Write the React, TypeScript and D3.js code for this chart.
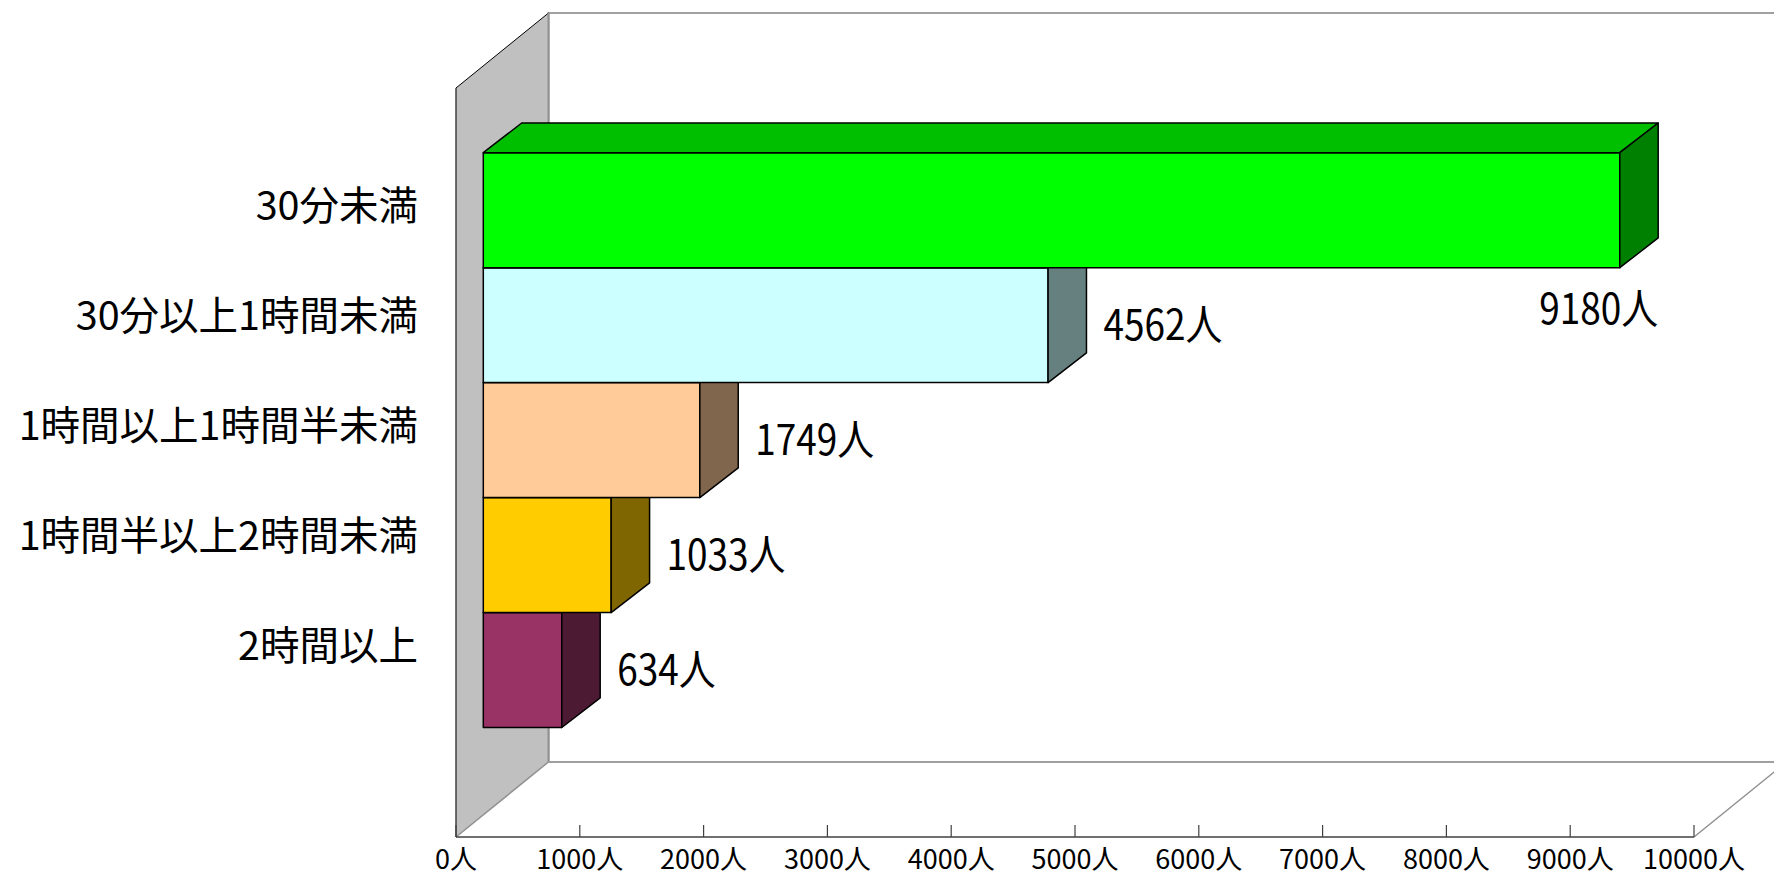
import React from "react";
import * as d3 from "d3";

// 通勤・通学の所要時間別の人数
const categories = [
  "30分未満",
  "30分以上1時間未満",
  "1時間以上1時間半未満",
  "1時間半以上2時間未満",
  "2時間以上",
];
const values = [9180, 4562, 1749, 1033, 634];
const barColors = ["#00FF00", "#CCFFFF", "#FFCC99", "#FFCC00", "#993366"];
const tickValues = [0, 1000, 2000, 3000, 4000, 5000, 6000, 7000, 8000, 9000, 10000];
const unit = "人";

const W = 1774;
const H = 876;

// 3D box geometry
const AXIS_X0 = 456;
const AXIS_X1 = 1694;
const FRONT_TOP = 88;
const FRONT_BOTTOM = 837;
const WALL_DEPTH: [number, number] = [92.5, -75];
const BAR_OFFSET_X = 27.3;
const BAR_DEPTH: [number, number] = [38.4, -29.7];

const FONT = "'Noto Sans CJK JP', 'Noto Sans', sans-serif";

function shade(c: string, k: number) {
  const r = d3.rgb(c);
  return d3.rgb(Math.round(r.r * k), Math.round(r.g * k), Math.round(r.b * k)).formatHex();
}

export default function App() {
  const x = d3.scaleLinear().domain([0, 10000]).range([AXIS_X0, AXIS_X1]);
  const xBar = d3
    .scaleLinear()
    .domain([0, 10000])
    .range([AXIS_X0 + BAR_OFFSET_X, AXIS_X1 + BAR_OFFSET_X]);
  const yBar = d3.scaleBand().domain(categories).range([152.7, 727.5]).padding(0);
  const yLabel = d3.scaleBand().domain(categories).range([150, 700]).padding(0);

  const [dx, dy] = WALL_DEPTH;
  const [bdx, bdy] = BAR_DEPTH;
  const line = d3.line();

  const bars = categories.map((c, i) => {
    const x0 = xBar(0);
    const x1 = xBar(values[i]);
    const y0 = yBar(c)!;
    const y1 = y0 + yBar.bandwidth();
    const front: [number, number][] = [
      [x0, y0], [x1, y0], [x1, y1], [x0, y1],
    ];
    const top: [number, number][] = [
      [x0, y0], [x0 + bdx, y0 + bdy], [x1 + bdx, y0 + bdy], [x1, y0],
    ];
    const side: [number, number][] = [
      [x1, y0], [x1 + bdx, y0 + bdy], [x1 + bdx, y1 + bdy], [x1, y1],
    ];
    return { c, i, x1, y0, y1, front, top, side };
  });

  // lower bars first so the ones above cover their hidden parts
  const drawOrder = [...bars].reverse();

  return (
    <svg
      width={W}
      height={H}
      style={{ position: "fixed", left: 0, top: 0, background: "#fff" }}
    >
      {/* back wall */}
      <path
        d={`M${AXIS_X0 + dx},${FRONT_BOTTOM + dy}V${FRONT_TOP + dy}H${W + 20}`}
        fill="none"
        stroke="#A0A0A0"
        strokeWidth={2}
      />
      <line
        x1={AXIS_X0 + dx}
        x2={W + 20}
        y1={FRONT_BOTTOM + dy}
        y2={FRONT_BOTTOM + dy}
        stroke="#A0A0A0"
        strokeWidth={2}
      />
      {/* floor front-right edge */}
      <line
        x1={AXIS_X1}
        y1={FRONT_BOTTOM}
        x2={AXIS_X1 + dx}
        y2={FRONT_BOTTOM + dy}
        stroke="#909090"
        strokeWidth={1.5}
      />
      {/* side wall */}
      <path
        d={line([
          [AXIS_X0, FRONT_TOP],
          [AXIS_X0 + dx, FRONT_TOP + dy],
          [AXIS_X0 + dx, FRONT_BOTTOM + dy],
          [AXIS_X0, FRONT_BOTTOM],
        ])! + "Z"}
        fill="#C0C0C0"
        stroke="none"
      />
      <line
        x1={AXIS_X0}
        y1={FRONT_TOP}
        x2={AXIS_X0 + dx}
        y2={FRONT_TOP + dy}
        stroke="#000"
        strokeWidth={1}
      />
      <line
        x1={AXIS_X0 + dx}
        y1={FRONT_TOP + dy}
        x2={AXIS_X0 + dx}
        y2={FRONT_BOTTOM + dy}
        stroke="#909090"
        strokeWidth={2}
      />
      <line
        x1={AXIS_X0}
        y1={FRONT_BOTTOM}
        x2={AXIS_X0 + dx}
        y2={FRONT_BOTTOM + dy}
        stroke="#909090"
        strokeWidth={1.5}
      />
      <line
        x1={AXIS_X0}
        y1={FRONT_TOP}
        x2={AXIS_X0}
        y2={FRONT_BOTTOM}
        stroke="#404040"
        strokeWidth={1.5}
      />

      {/* value axis */}
      <line
        x1={AXIS_X0}
        x2={AXIS_X1}
        y1={FRONT_BOTTOM}
        y2={FRONT_BOTTOM}
        stroke="#404040"
        strokeWidth={1.5}
      />
      {tickValues.map((t) => (
        <g key={t}>
          <line
            x1={x(t)}
            x2={x(t)}
            y1={FRONT_BOTTOM}
            y2={FRONT_BOTTOM - 12}
            stroke="#404040"
            strokeWidth={1.2}
          />
          <text
            x={x(t)}
            y={869}
            textAnchor="middle"
            fontFamily={FONT}
            fontSize={27}
            fill="#000"
          >
            {`${t}${unit}`}
          </text>
        </g>
      ))}

      {/* bars */}
      {drawOrder.map((b) => (
        <g key={b.c}>
          <path
            d={line(b.front)! + "Z"}
            fill={barColors[b.i]}
            stroke="#000"
            strokeWidth={1.5}
            strokeLinejoin="round"
          />
          <path
            d={line(b.top)! + "Z"}
            fill={shade(barColors[b.i], 0.75)}
            stroke="#000"
            strokeWidth={1.5}
            strokeLinejoin="round"
          />
          <path
            d={line(b.side)! + "Z"}
            fill={shade(barColors[b.i], 0.5)}
            stroke="#000"
            strokeWidth={1.5}
            strokeLinejoin="round"
          />
        </g>
      ))}

      {/* value labels */}
      {bars.map((b) => {
        const backRight = b.x1 + bdx;
        const text = `${values[b.i]}${unit}`;
        const estWidth = text.length * 24;
        const overflow = backRight + 17 + estWidth > W;
        const cy = overflow ? b.y1 + 41 : (b.y0 + b.y1) / 2;
        const tx = overflow ? backRight : backRight + 17;
        return (
          <text
            key={b.c}
            transform={`translate(${tx},${cy + 15}) scale(0.88,1)`}
            textAnchor={overflow ? "end" : "start"}
            fontFamily={FONT}
            fontSize={42}
            fill="#000"
          >
            {text}
          </text>
        );
      })}

      {/* category labels */}
      {categories.map((c) => (
        <text
          key={c}
          x={418}
          y={yLabel(c)! + yLabel.bandwidth() / 2 + 14.8}
          textAnchor="end"
          fontFamily={FONT}
          fontSize={39.5}
          fill="#000"
        >
          {c}
        </text>
      ))}
    </svg>
  );
}
